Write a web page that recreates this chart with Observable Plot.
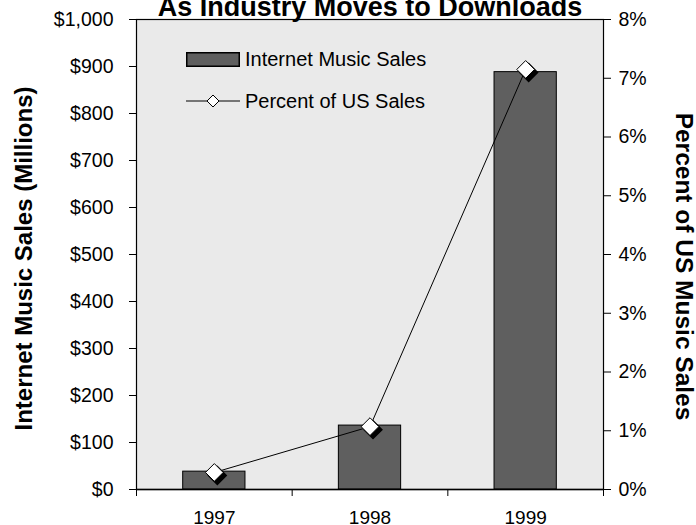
<!DOCTYPE html>
<html>
<head>
<meta charset="utf-8">
<script src="https://cdn.jsdelivr.net/npm/d3@7"></script>
<script src="https://cdn.jsdelivr.net/npm/@observablehq/plot@0.6"></script>
<style>
  html, body { margin: 0; padding: 0; background: #fff; }
  #wrap { position: relative; width: 696px; height: 525px; overflow: hidden; font-family: Arial, "Liberation Sans", sans-serif; }
  #legend { position: absolute; left: 186px; top: 47px; font-size: 20px; color: #000; }
  #legend .row { display: flex; align-items: center; height: 24px; margin-bottom: 18px; }
  #legend svg { margin-right: 5px; }
</style>
</head>
<body>
<div id="wrap"></div>
<script>
const years = [1997, 1998, 1999];
const sales = [38, 136, 888];          // $ millions
const percent = [0.29, 1.07, 7.15];    // % of US music sales
const salesTicks = [0, 100, 200, 300, 400, 500, 600, 700, 800, 900, 1000];
const percentTicks = [0, 1, 2, 3, 4, 5, 6, 7, 8];
const title = "As Industry Moves to Downloads";
const leftTitle = "Internet Music Sales (Millions)";
const rightTitle = "Percent of US Music Sales";
const seriesNames = ["Internet Music Sales", "Percent of US Sales"];

const pctToY = 1000 / 8;
const data = years.map((y, i) => ({year: y, sales: sales[i], pct: percent[i]}));
const halfBar = 0.2;
const bounds = [years[0] - 0.5, ...years.map(y => y + 0.5)];

const font = 'Arial, "Liberation Sans", sans-serif';

const chart = Plot.plot({
  width: 696,
  height: 525,
  marginTop: 19,
  marginLeft: 136,
  marginRight: 93,
  marginBottom: 36,
  style: {fontFamily: font, fontSize: "19.5px", color: "#000", background: "#fff", overflow: "visible"},
  x: {domain: [years[0] - 0.5, years[years.length - 1] + 0.5]},
  y: {domain: [0, 1000]},
  marks: [
    Plot.frame({fill: "#eaeaea", stroke: "#000", strokeWidth: 1.2}),
    Plot.rectY(data, {x1: d => d.year - halfBar, x2: d => d.year + halfBar, y: "sales", fill: "#5f5f5f", stroke: "#000", strokeWidth: 1}),
    Plot.ruleY([0], {stroke: "#000", strokeWidth: 1.5}),
    Plot.axisY({ticks: salesTicks, tickFormat: d => "$" + d3.format(",")(d), tickSize: 7, tickPadding: 16, fontSize: 19.5, label: null}),
    Plot.axisY({anchor: "right", ticks: percentTicks.map(p => p * pctToY), tickFormat: d => (d / pctToY) + "%", tickSize: 7, tickPadding: 8, fontSize: 19.5, label: null}),
    Plot.axisX({ticks: years, tickFormat: d => String(d), tickSize: 0, tickPadding: 21, fontSize: 19, label: null}),
    Plot.axisX({ticks: bounds, tickFormat: () => "", tickSize: 7, label: null}),
    Plot.line(data, {x: "year", y: d => d.pct * pctToY, stroke: "#000", strokeWidth: 1}),
    Plot.dot(data, {x: "year", y: d => d.pct * pctToY, symbol: "diamond2", r: 8, fill: "#000", stroke: "#000", dx: 3, dy: 3}),
    Plot.dot(data, {x: "year", y: d => d.pct * pctToY, symbol: "diamond2", r: 8, fill: "#fff", stroke: "#000", strokeWidth: 1}),
    Plot.text([title], {frameAnchor: "top", dy: -4, lineAnchor: "bottom", fontWeight: "bold", fontSize: 27, fill: "#000"}),
    Plot.text([leftTitle], {frameAnchor: "left", textAnchor: "middle", rotate: -90, dx: -112, dy: 4, fontWeight: "bold", fontSize: 24, fill: "#000"}),
    Plot.text([rightTitle], {frameAnchor: "right", textAnchor: "middle", rotate: 90, dx: 80, dy: 12, fontWeight: "bold", fontSize: 24.5, fill: "#000"})
  ]
});

const wrap = document.getElementById("wrap");
wrap.appendChild(chart);

const legend = document.createElement("div");
legend.id = "legend";
legend.innerHTML = `
  <div class="row"><svg width="54" height="15"><rect x="0.75" y="0.75" width="52.5" height="13.5" fill="#5f5f5f" stroke="#000" stroke-width="1.5"/></svg><span>${seriesNames[0]}</span></div>
  <div class="row"><svg width="54" height="16"><line x1="0" x2="54" y1="8" y2="8" stroke="#000"/><path d="M27,2 L33,8 L27,14 L21,8 Z" fill="#fff" stroke="#000"/></svg><span>${seriesNames[1]}</span></div>`;
wrap.appendChild(legend);
</script>
</body>
</html>
